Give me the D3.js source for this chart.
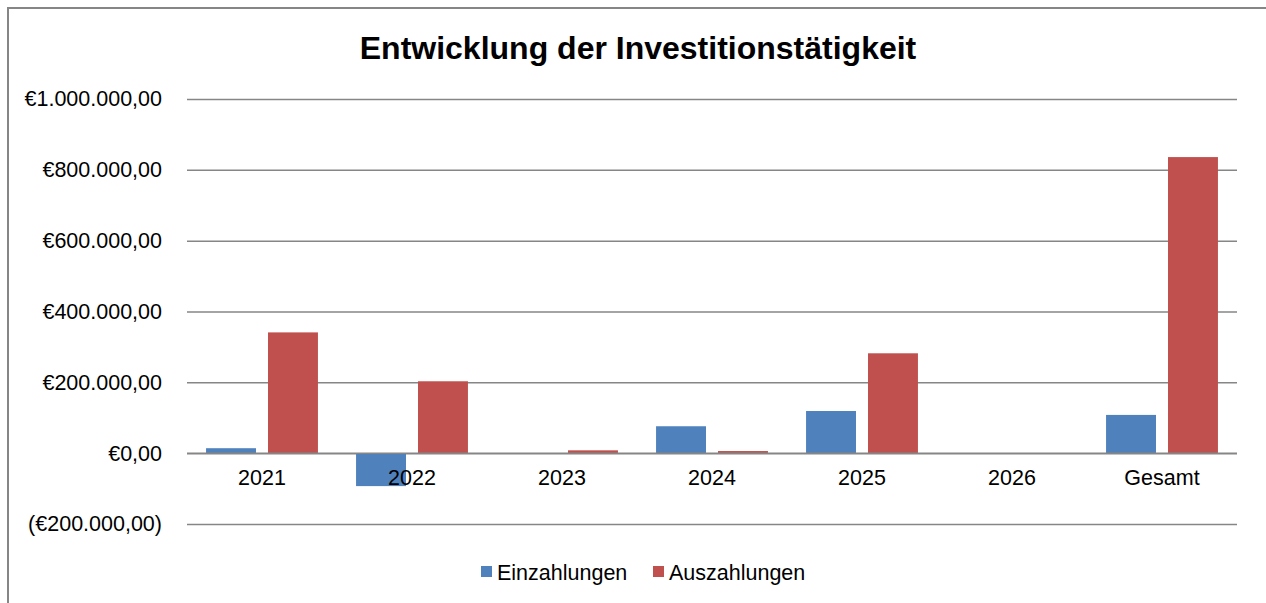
<!DOCTYPE html>
<html lang="de">
<head>
    <meta charset="UTF-8">
    <title>Entwicklung der Investitionstätigkeit</title>
    <script src="https://cdn.jsdelivr.net/npm/d3@7"></script>
    <style>
        body { margin: 0; background: #fff; }
        text { font-family: "Liberation Sans", Arial, sans-serif; fill: #000; }
    </style>
</head>
<body>
    <div id="chart"></div>
    <script>
        // Daten
        const categories = ["2021", "2022", "2023", "2024", "2025", "2026", "Gesamt"];
        const seriesNames = ["Einzahlungen", "Auszahlungen"];
        const einzahlungen = [14000, -93000, 0, 76000, 119000, 0, 108000];
        const auszahlungen = [341000, 203000, 8000, 6000, 282000, 0, 836000];
        const yTicks = [-200000, 0, 200000, 400000, 600000, 800000, 1000000];
        const colors = ["#4F81BD", "#C0504D"];

        const W = 1266, H = 603;
        const plot = { left: 187, right: 1237, top: 99, bottom: 524 };
        const fontSize = "21.5px";

        const svg = d3.select("#chart").append("svg")
            .attr("width", W)
            .attr("height", H);

        // Rahmen
        svg.append("rect")
            .attr("x", 8).attr("y", 8)
            .attr("width", W + 20).attr("height", H + 20)
            .attr("fill", "none")
            .attr("stroke", "#868686")
            .attr("stroke-width", 2);

        // Titel
        svg.append("text")
            .attr("x", 638)
            .attr("y", 59)
            .attr("text-anchor", "middle")
            .style("font-size", "32px")
            .style("font-weight", "bold")
            .text("Entwicklung der Investitionstätigkeit");

        const de = d3.formatLocale({
            decimal: ",", thousands: ".", grouping: [3], currency: ["€", ""]
        });
        const fmt = de.format("($,.2f");

        const y = d3.scaleLinear()
            .domain([-200000, 1000000])
            .range([plot.bottom, plot.top]);

        const x0 = d3.scaleBand()
            .domain(categories)
            .range([plot.left, plot.right]);

        const bw = x0.bandwidth();
        const x1 = d3.scaleBand()
            .domain(seriesNames)
            .range([bw * 0.127, bw * 0.873])
            .paddingInner(0.194);

        // Y-Achse mit Gitterlinien
        const yAxis = svg.append("g")
            .attr("transform", `translate(${plot.left},0)`)
            .call(d3.axisLeft(y)
                .tickValues(yTicks)
                .tickFormat(fmt)
                .tickSize(-(plot.right - plot.left))
                .tickPadding(25));
        yAxis.select(".domain").remove();
        yAxis.selectAll("line")
            .attr("stroke", "#868686")
            .attr("stroke-width", 1.5);
        yAxis.selectAll("text")
            .style("font-size", fontSize);

        // Balken
        const data = categories.map((c, i) => ({
            cat: c,
            values: [einzahlungen[i], auszahlungen[i]]
        }));

        const groups = svg.append("g").selectAll("g")
            .data(data)
            .enter().append("g")
            .attr("transform", d => `translate(${x0(d.cat)},0)`);

        groups.selectAll("rect")
            .data(d => d.values.map((v, j) => ({ name: seriesNames[j], value: v, j: j })))
            .enter().append("rect")
            .filter(d => d.value !== 0)
            .attr("x", d => x1(d.name))
            .attr("width", x1.bandwidth())
            .attr("y", d => y(Math.max(0, d.value)))
            .attr("height", d => Math.abs(y(d.value) - y(0)))
            .attr("fill", d => colors[d.j]);

        // Nulllinie nochmal oben drauf
        svg.append("line")
            .attr("x1", plot.left).attr("x2", plot.right)
            .attr("y1", y(0)).attr("y2", y(0))
            .attr("stroke", "#868686")
            .attr("stroke-width", 1.5);

        // X-Achse an der Nulllinie
        const xAxis = svg.append("g")
            .attr("transform", `translate(0,${y(0)})`)
            .call(d3.axisBottom(x0).tickSize(0).tickPadding(17));
        xAxis.select(".domain").remove();
        xAxis.selectAll("text")
            .style("font-size", fontSize);

        // Legende
        const legend = svg.append("g");
        const legendItems = [
            { name: seriesNames[0], x: 481 },
            { name: seriesNames[1], x: 653 }
        ];
        legendItems.forEach((d, i) => {
            legend.append("rect")
                .attr("x", d.x).attr("y", 566)
                .attr("width", 11).attr("height", 11)
                .attr("fill", colors[i]);
            legend.append("text")
                .attr("x", d.x + 16).attr("y", 580)
                .style("font-size", fontSize)
                .text(d.name);
        });
    </script>
</body>
</html>
